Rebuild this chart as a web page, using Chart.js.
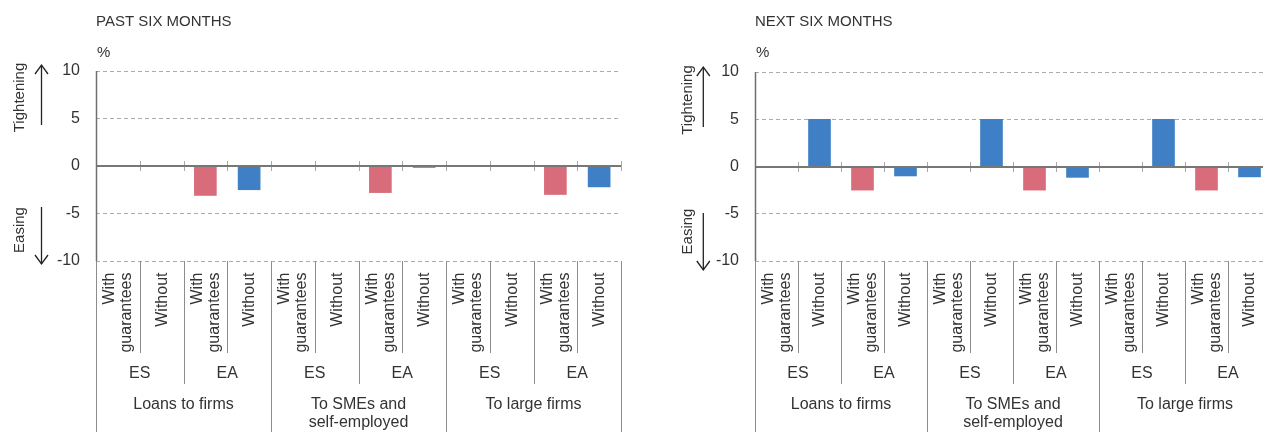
<!DOCTYPE html>
<html>
<head>
<meta charset="utf-8">
<script src="https://cdn.jsdelivr.net/npm/chart.js@4.4.1/dist/chart.umd.min.js"></script>
<style>
  html, body { margin: 0; padding: 0; background: #fff; overflow: hidden; }
  body { width: 1263px; height: 432px; position: relative; }
  canvas { position: absolute; top: 0; }
  #past { left: 0; }
  #next { left: 632px; }
</style>
</head>
<body>
<canvas id="past" width="632" height="432"></canvas>
<canvas id="next" width="639" height="432"></canvas>
<script>
const sectors = [['Loans to firms'], ['To SMEs and', 'self-employed'], ['To large firms']];
const regions = ['ES', 'EA'];
const guarantees = [['With', 'guarantees'], ['Without']];
const yTicks = [-10, -5, 0, 5, 10];

// % of banks, order: sector > region > with / without guarantees
const pastSixMonths = [0, 0, -3.1, -2.5, 0, 0, -2.8, -0.15, 0, 0, -3.0, -2.2];
const nextSixMonths = [0, 5, -2.5, -1.0, 0, 5, -2.5, -1.15, 0, 5, -2.5, -1.1];

const PINK = '#d96c7a';
const BLUE = '#3f7fc5';
const TEXT = '#333';
const FONT = '"Liberation Sans", Arial, sans-serif';

const categories = [];
sectors.forEach(s => regions.forEach(r => guarantees.forEach(g => {
  categories.push(s.join(' ') + ' ' + r + ' ' + g.join(' '));
})));

function seg(ctx, x1, y1, x2, y2) {
  ctx.beginPath();
  ctx.moveTo(x1, y1);
  ctx.lineTo(x2, y2);
  ctx.stroke();
}

function arrow(ctx, x, tail, tip) {
  const dir = tip < tail ? 1 : -1;
  seg(ctx, x, tail, x, tip);
  ctx.beginPath();
  ctx.moveTo(x - 6.5, tip + dir * 9);
  ctx.lineTo(x, tip);
  ctx.lineTo(x + 6.5, tip + dir * 9);
  ctx.stroke();
}

function rotatedText(ctx, lines, x, y, align, lh) {
  ctx.save();
  ctx.translate(x, y);
  ctx.rotate(-Math.PI / 2);
  ctx.textAlign = align;
  ctx.textBaseline = 'middle';
  lines.forEach((t, j) => ctx.fillText(t, 0, (j - (lines.length - 1) / 2) * lh));
  ctx.restore();
}

const decor = cfg => ({
  id: 'decor',
  afterDatasetsDraw(chart) {
    const { ctx, chartArea: a, scales: { x, y } } = chart;
    const n = categories.length;
    const perRegion = guarantees.length;
    const perSector = regions.length * perRegion;
    const edge = i => i === 0 ? a.left : i === n ? a.right
      : (x.getPixelForValue(i - 1) + x.getPixelForValue(i)) / 2;
    const px = v => Math.round(v) + 0.5;
    const y0 = Math.round(y.getPixelForValue(0));
    const yBot = y.getPixelForValue(yTicks[0]);

    ctx.save();
    // separators of the category table
    ctx.strokeStyle = '#8c8c8c';
    ctx.lineWidth = 1;
    for (let i = 0; i <= n; i++) {
      const end = i % perSector === 0 ? chart.height : i % perRegion === 0 ? 384 : 353;
      seg(ctx, px(edge(i)), yBot, px(edge(i)), end);
    }
    // tick marks on the zero line
    ctx.strokeStyle = '#a8a8a8';
    for (let i = 1; i <= n; i++) seg(ctx, px(edge(i)), y0 - 5, px(edge(i)), y0 + 5);
    // zero line
    ctx.strokeStyle = '#777';
    ctx.lineWidth = 2;
    seg(ctx, a.left, y0, a.right, y0);
    // y axis line
    ctx.strokeStyle = '#6f6f6f';
    ctx.lineWidth = 1.5;
    seg(ctx, a.left + 0.5, a.top, a.left + 0.5, yBot);
    ctx.restore();
  },
  afterDraw(chart) {
    const { ctx, chartArea: a, scales: { x } } = chart;
    const n = categories.length;
    const perRegion = guarantees.length;
    const perSector = regions.length * perRegion;
    const edge = i => i === 0 ? a.left : i === n ? a.right
      : (x.getPixelForValue(i - 1) + x.getPixelForValue(i)) / 2;

    ctx.save();
    ctx.fillStyle = TEXT;

    // panel title and unit
    ctx.font = '15px ' + FONT;
    ctx.textAlign = 'left';
    ctx.textBaseline = 'middle';
    ctx.fillText(cfg.title, a.left, 22);
    ctx.fillText('%', a.left + 1, 52.5);

    // y axis direction labels
    rotatedText(ctx, ['Tightening'], cfg.textX, cfg.tightY, 'center', 0);
    rotatedText(ctx, ['Easing'], cfg.textX, cfg.easeY, 'center', 0);
    ctx.strokeStyle = '#222';
    ctx.lineWidth = 1.3;
    arrow(ctx, cfg.arrowX, cfg.upTail, cfg.upTip);
    arrow(ctx, cfg.arrowX, cfg.downTail, cfg.downTip);

    // category table
    ctx.font = '16px ' + FONT;
    for (let i = 0; i < n; i++) {
      rotatedText(ctx, guarantees[i % perRegion], x.getPixelForValue(i) + 0.5, 272.5, 'right', 17);
    }
    ctx.textAlign = 'center';
    ctx.textBaseline = 'middle';
    sectors.forEach((lines, s) => {
      regions.forEach((r, k) => {
        const i0 = s * perSector + k * perRegion;
        ctx.fillText(r, (edge(i0) + edge(i0 + perRegion)) / 2, 374);
      });
      const cx = (edge(s * perSector) + edge((s + 1) * perSector)) / 2;
      lines.forEach((t, j) => ctx.fillText(t, cx, 405 + j * 18));
    });
    ctx.restore();
  }
});

function makeChart(id, values, cfg) {
  return new Chart(document.getElementById(id), {
    type: 'bar',
    data: {
      labels: categories,
      datasets: [{
        data: values,
        backgroundColor: c => c.dataIndex % guarantees.length === 0 ? PINK : BLUE,
        borderWidth: 0,
        barThickness: 22
      }]
    },
    options: {
      responsive: false,
      animation: false,
      devicePixelRatio: 1,
      layout: { padding: cfg.padding },
      plugins: { legend: { display: false }, tooltip: { enabled: false } },
      scales: {
        x: {
          grid: { display: false },
          border: { display: false },
          ticks: { display: false },
          afterFit: s => { s.height = 171; }
        },
        y: {
          min: yTicks[0],
          max: yTicks[yTicks.length - 1],
          afterBuildTicks: s => { s.ticks = yTicks.map(v => ({ value: v })); },
          afterFit: s => { s.width = cfg.axisWidth; },
          grid: {
            color: c => c.tick && c.tick.value === 0 ? 'rgba(0,0,0,0)' : '#ababab',
            lineWidth: 1,
            drawTicks: false
          },
          border: { display: false, dash: [4, 3] },
          ticks: { padding: 16, color: TEXT, font: { size: 16, family: FONT } }
        }
      }
    },
    plugins: [decor(cfg)]
  });
}

makeChart('past', pastSixMonths, {
  title: 'PAST SIX MONTHS',
  padding: { top: 71, right: 11, bottom: 0, left: 0 },
  axisWidth: 96,
  textX: 20, arrowX: 41.5,
  tightY: 97.5, easeY: 230,
  upTail: 125, upTip: 65, downTail: 207, downTip: 264
});

makeChart('next', nextSixMonths, {
  title: 'NEXT SIX MONTHS',
  padding: { top: 72, right: 0, bottom: 0, left: 0 },
  axisWidth: 123,
  textX: 56, arrowX: 71.3,
  tightY: 100, easeY: 231.5,
  upTail: 127, upTip: 67, downTail: 213, downTip: 270
});
</script>
</body>
</html>
